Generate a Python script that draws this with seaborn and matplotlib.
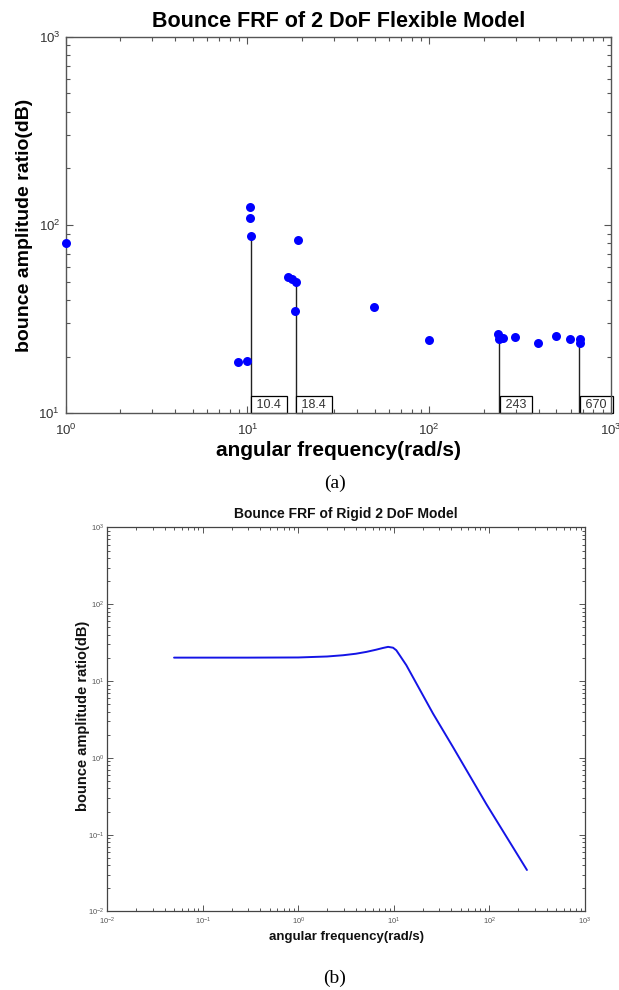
import numpy as np
import pandas as pd
import matplotlib
matplotlib.use("Agg")
import matplotlib.pyplot as plt
import seaborn as sns
from matplotlib import font_manager
from matplotlib.ticker import LogLocator, LogFormatterSciNotation, NullFormatter

# ---------------- data ----------------
# (a) flexible model: scattered FRF points
freq_flex = [1.0, 8.9, 10.0, 10.3, 10.3, 10.4, 16.8, 17.5, 18.4, 18.2, 18.9,
             49.6, 99.3, 239, 243, 253, 297, 396, 498, 594, 674, 674]
amp_flex = [80.5, 18.8, 18.9, 125, 108.6, 87.7, 52.7, 51.9, 50.0, 35.1, 83.0,
            36.5, 24.4, 26.4, 24.7, 25.0, 25.3, 23.7, 25.6, 24.9, 24.7, 23.7]
# data tips
tip_freq = [10.4, 18.4, 243, 670]
tip_amp = [87.7, 50.0, 26.0, 24.2]
tip_labels = ["10.4", "18.4", "243", "670"]

# (b) rigid model: FRF curve
freq_rigid = [0.05, 0.1, 0.3, 1.0, 2.0, 2.94, 4.0, 5.16, 6.5, 7.7, 8.7, 9.8,
              10.6, 11.5, 13.5, 25.7, 41.6, 92.9, 247]
amp_rigid = [20.2, 20.2, 20.2, 20.3, 20.9, 21.7, 22.7, 24.0, 25.6, 27.0, 27.9, 27.2,
             25.2, 21.7, 16.1, 3.77, 1.38, 0.25, 0.0347]

title_a = "Bounce FRF of 2 DoF Flexible Model"
title_b = "Bounce FRF of Rigid 2 DoF Model"
xlab = "angular frequency(rad/s)"
ylab = "bounce amplitude ratio(dB)"

# ---------------- style ----------------
sns.set_theme(style="ticks")
plt.rcParams["font.family"] = ["Liberation Sans", "DejaVu Sans"]
plt.rcParams["mathtext.fontset"] = "custom"
plt.rcParams["mathtext.rm"] = "Liberation Sans"
plt.rcParams["mathtext.it"] = "Liberation Sans:italic"
plt.rcParams["mathtext.bf"] = "Liberation Sans:bold"

names = {f.name for f in font_manager.fontManager.ttflist}
narrow = "Liberation Sans Narrow" if "Liberation Sans Narrow" in names else "Liberation Sans"
serif = "Liberation Serif" if "Liberation Serif" in names else "DejaVu Serif"

fig = plt.figure(figsize=(6.19, 9.9), dpi=100)
fig.patch.set_facecolor("white")

# ---------------- (a) ----------------
ax1 = fig.add_axes([0.1061, 0.5825, 0.8810, 0.3804])
ax1.set_xscale("log")
ax1.set_yscale("log")
ax1.set_xlim(1, 1000)
ax1.set_ylim(10, 1000)
ax1.set_axisbelow(False)

ax1.vlines(tip_freq, 10, tip_amp, colors="#222222", lw=1.0, zorder=1.5)
sns.scatterplot(x=freq_flex, y=amp_flex, ax=ax1, color="#0000FF", s=42,
                linewidth=0, zorder=3, clip_on=False, legend=False)

for f, lab in zip(tip_freq, tip_labels):
    ax1.annotate(" " + lab + " ", xy=(f, 10), xycoords="data",
                 xytext=(2.0, 1.9), textcoords="offset points",
                 ha="left", va="bottom", fontsize=9, color="#333333",
                 bbox=dict(boxstyle="square,pad=0.2", fc="white", ec="black", lw=0.9),
                 zorder=2)

for axis in (ax1.xaxis, ax1.yaxis):
    axis.set_major_locator(LogLocator(base=10, numticks=10))
    axis.set_minor_locator(LogLocator(base=10, subs=np.arange(2, 10), numticks=100))
    axis.set_major_formatter(LogFormatterSciNotation())
    axis.set_minor_formatter(NullFormatter())
ax1.tick_params(which="both", direction="in", top=True, right=True,
                color="#555555", labelcolor="#333333", width=0.8)
ax1.tick_params(which="major", length=5, labelsize=9.5)
ax1.tick_params(which="minor", length=3)
ax1.tick_params(axis="x", which="major", pad=6.5)
ax1.tick_params(axis="y", which="major", pad=4)
for sp in ax1.spines.values():
    sp.set_color("#555555")
    sp.set_linewidth(1.0)
    sp.set_visible(True)

ax1.set_title(title_a, fontsize=15.5, fontweight="bold", pad=7.2, color="black")
ax1.set_xlabel(xlab, fontsize=15, fontweight="bold", color="black")
ax1.xaxis.label.set_va("baseline")
ax1.xaxis.set_label_coords(0.5, -0.1134)
ax1.set_ylabel(ylab, fontsize=14, fontweight="bold", color="black")
ax1.yaxis.set_label_coords(-0.060, 0.5)

# ---------------- (b) ----------------
ax2 = fig.add_axes([0.1733, 0.0793, 0.7717, 0.3879])
ax2.set_xscale("log")
ax2.set_yscale("log")
ax2.set_xlim(1e-2, 1e3)
ax2.set_ylim(1e-2, 1e3)

sns.lineplot(x=freq_rigid, y=amp_rigid, ax=ax2, color="#1414E6", lw=1.4,
             sort=True, estimator=None)

for axis in (ax2.xaxis, ax2.yaxis):
    axis.set_major_locator(LogLocator(base=10, numticks=10))
    axis.set_minor_locator(LogLocator(base=10, subs=np.arange(2, 10), numticks=100))
    axis.set_major_formatter(LogFormatterSciNotation())
    axis.set_minor_formatter(NullFormatter())
ax2.tick_params(which="both", direction="in", top=True, right=True,
                color="#555555", labelcolor="#555555", width=0.7)
ax2.tick_params(which="major", length=4.5, labelsize=5.5)
ax2.tick_params(which="minor", length=2.5)
ax2.tick_params(axis="x", which="major", pad=3)
ax2.tick_params(axis="y", which="major", pad=2)
for sp in ax2.spines.values():
    sp.set_color("#444444")
    sp.set_linewidth(0.9)
    sp.set_visible(True)

ax2.set_title(title_b, fontsize=10, fontweight="bold", pad=6.6,
              family=[narrow, "DejaVu Sans"], color="#111111")
ax2.set_xlabel(xlab, fontsize=9.5, fontweight="bold", family=[narrow, "DejaVu Sans"],
               color="#111111")
ax2.xaxis.label.set_va("baseline")
ax2.xaxis.set_label_coords(0.5, -0.0742)
ax2.set_ylabel(ylab, fontsize=10.5, fontweight="bold", color="#111111")
ax2.yaxis.set_label_coords(-0.037, 0.51)

# ---------------- sub-captions ----------------
fig.text(0.541, 0.507, "(a)", ha="center", va="baseline", fontsize=14,
         family=[serif, "DejaVu Serif"], color="black")
fig.text(0.540, 0.0076, "(b)", ha="center", va="baseline", fontsize=14,
         family=[serif, "DejaVu Serif"], color="black")

fig.savefig("out.png", dpi=100, facecolor="white")
